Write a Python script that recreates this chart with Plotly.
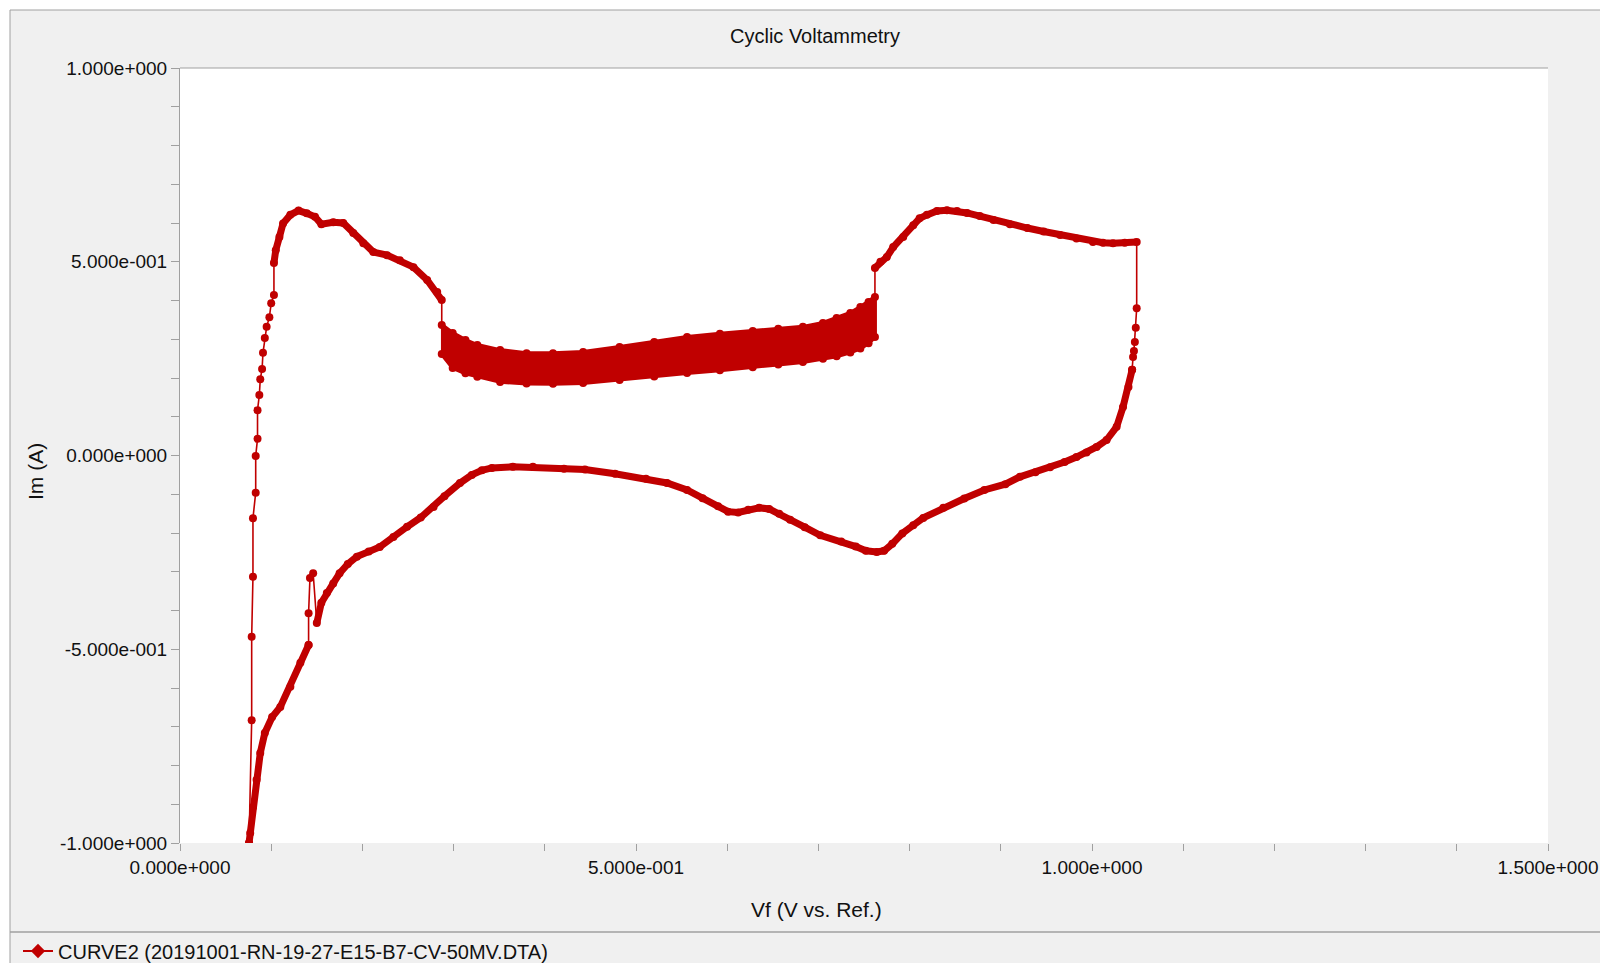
import plotly.graph_objects as go

# ---------------- data ----------------
# anodic steep rise from the switching potential (sparse points)
rise_x = [0.0757, 0.0786, 0.0786, 0.0800, 0.0800, 0.0830, 0.0830, 0.0850, 0.0850,
          0.0870, 0.0880, 0.0900, 0.0910, 0.0930, 0.0950, 0.0980, 0.1000, 0.1030]
rise_y = [-1.000, -0.683, -0.468, -0.313, -0.162, -0.096, -0.001, 0.043, 0.117,
          0.156, 0.197, 0.223, 0.265, 0.303, 0.332, 0.357, 0.393, 0.414]

# first anodic wave
arc1_x = [0.103, 0.105, 0.109, 0.113, 0.121, 0.130, 0.139, 0.148, 0.155, 0.168,
          0.179, 0.190, 0.201, 0.212, 0.227, 0.241, 0.256, 0.271, 0.282, 0.287]
arc1_y = [0.497, 0.530, 0.564, 0.599, 0.621, 0.632, 0.625, 0.616, 0.597, 0.602,
          0.600, 0.574, 0.548, 0.525, 0.517, 0.504, 0.486, 0.453, 0.422, 0.401]

# noisy band (upper and lower envelope of the oscillating points)
band_x = [0.287, 0.299, 0.313, 0.326, 0.351, 0.380, 0.409, 0.442, 0.482, 0.520, 0.556,
          0.592, 0.628, 0.656, 0.683, 0.705, 0.720, 0.735, 0.746, 0.755, 0.762]
band_hi = [0.337, 0.316, 0.298, 0.285, 0.272, 0.264, 0.264, 0.267, 0.280, 0.293, 0.306,
           0.314, 0.321, 0.327, 0.332, 0.342, 0.355, 0.368, 0.383, 0.396, 0.409]
band_lo = [0.262, 0.226, 0.212, 0.203, 0.190, 0.186, 0.185, 0.187, 0.195, 0.204, 0.213,
           0.220, 0.228, 0.235, 0.241, 0.250, 0.256, 0.266, 0.276, 0.290, 0.306]

# second anodic wave
arc2_x = [0.762, 0.768, 0.775, 0.782, 0.793, 0.804, 0.811, 0.819, 0.830, 0.841, 0.852, 0.863,
          0.877, 0.892, 0.910, 0.929, 0.947, 0.965, 0.983, 1.001, 1.012, 1.023, 1.036, 1.049]
arc2_y = [0.484, 0.500, 0.512, 0.538, 0.564, 0.594, 0.612, 0.621, 0.631, 0.633, 0.631, 0.626,
          0.618, 0.608, 0.597, 0.587, 0.578, 0.569, 0.560, 0.551, 0.549, 0.548, 0.549, 0.551]

# reversal (sparse)
rtop_x = [1.049, 1.048, 1.047, 1.046, 1.045, 1.044]
rtop_y = [0.380, 0.330, 0.293, 0.270, 0.254, 0.221]

# cathodic return
ret_x = [1.044, 1.040, 1.034, 1.027, 1.016, 1.005, 0.994, 0.983, 0.970, 0.954, 0.938, 0.921,
         0.905, 0.882, 0.860, 0.837, 0.815, 0.804, 0.792, 0.781, 0.772, 0.764, 0.752, 0.741,
         0.725, 0.702, 0.685, 0.669, 0.657, 0.646, 0.635, 0.623, 0.612, 0.601, 0.590, 0.573,
         0.556, 0.534, 0.511, 0.477, 0.444, 0.421, 0.387, 0.365, 0.342, 0.331, 0.320, 0.307,
         0.290, 0.278, 0.264, 0.249, 0.234, 0.219, 0.207, 0.194, 0.184, 0.175, 0.168, 0.161,
         0.155, 0.150]
ret_y = [0.221, 0.177, 0.125, 0.074, 0.040, 0.022, 0.008, -0.004, -0.017, -0.030, -0.043, -0.055,
         -0.074, -0.089, -0.111, -0.135, -0.161, -0.180, -0.201, -0.228, -0.246, -0.249, -0.246, -0.235,
         -0.222, -0.206, -0.185, -0.166, -0.150, -0.138, -0.135, -0.140, -0.147, -0.145, -0.131, -0.110,
         -0.089, -0.071, -0.060, -0.047, -0.036, -0.034, -0.029, -0.029, -0.032, -0.038, -0.050, -0.071,
         -0.105, -0.133, -0.160, -0.184, -0.210, -0.236, -0.248, -0.261, -0.280, -0.304, -0.330, -0.355,
         -0.380, -0.432]

# small spike (sparse)
spike_x = [0.146, 0.1425, 0.141, 0.141]
spike_y = [-0.304, -0.316, -0.407, -0.489]

# final descent to the switching potential
low_x = [0.141, 0.132, 0.121, 0.110, 0.101, 0.093, 0.088, 0.084, 0.080, 0.077, 0.0757]
low_y = [-0.489, -0.535, -0.597, -0.649, -0.675, -0.716, -0.768, -0.837, -0.907, -0.974, -1.000]

x_tick_vals = [0.0, 0.1, 0.2, 0.3, 0.4, 0.5, 0.6, 0.7, 0.8, 0.9, 1.0, 1.1, 1.2, 1.3, 1.4, 1.5]
x_tick_text = ["0.000e+000", "", "", "", "", "5.000e-001", "", "", "", "", "1.000e+000",
               "", "", "", "", "1.500e+000"]
y_tick_vals = [-1.0, -0.9, -0.8, -0.7, -0.6, -0.5, -0.4, -0.3, -0.2, -0.1, 0.0,
               0.1, 0.2, 0.3, 0.4, 0.5, 0.6, 0.7, 0.8, 0.9, 1.0]
y_tick_text = ["-1.000e+000", "", "", "", "", "-5.000e-001", "", "", "", "", "0.000e+000",
               "", "", "", "", "5.000e-001", "", "", "", "", "1.000e+000"]

series_name = "CURVE2 (20191001-RN-19-27-E15-B7-CV-50MV.DTA)"
title_text = "Cyclic Voltammetry"
x_title = "Vf (V vs. Ref.)"
y_title = "Im (A)"

# ---------------- figure ----------------
RED = "#c00000"
FONT = "Liberation Sans, Arial, sans-serif"
TXT = "#111111"
GRAY = "#a0a0a0"

# zigzag path through the band
zig_x, zig_y = [], []
for i, bx in enumerate(band_x):
    pair = (band_hi[i], band_lo[i]) if i % 2 == 0 else (band_lo[i], band_hi[i])
    zig_x += [bx, bx]
    zig_y += list(pair)

path_x = rise_x + arc1_x + zig_x + arc2_x + rtop_x + ret_x + spike_x + low_x
path_y = rise_y + arc1_y + zig_y + arc2_y + rtop_y + ret_y + spike_y + low_y

dense_x, dense_y = [], []
for sx, sy in [(arc1_x, arc1_y), (arc2_x, arc2_y), (ret_x, ret_y), (low_x, low_y)]:
    dense_x += sx + [None]
    dense_y += sy + [None]

fig = go.Figure()

# band body
fig.add_trace(go.Scatter(
    x=band_x + band_x[::-1], y=band_hi + band_lo[::-1],
    mode="lines", fill="toself", fillcolor=RED,
    line=dict(color=RED, width=4), showlegend=False, hoverinfo="skip"))

# dense portions drawn thick
fig.add_trace(go.Scatter(
    x=dense_x, y=dense_y, mode="lines",
    line=dict(color=RED, width=7), showlegend=False, hoverinfo="skip"))

# the full path with markers
fig.add_trace(go.Scatter(
    x=path_x, y=path_y, mode="lines+markers",
    line=dict(color=RED, width=1.6),
    marker=dict(color=RED, size=8, symbol="circle"),
    showlegend=False, name=series_name))

# legend entry
fig.add_trace(go.Scatter(
    x=[None], y=[None], mode="lines+markers", name=series_name,
    line=dict(color=RED, width=2),
    marker=dict(color=RED, size=11, symbol="diamond")))

# page body adds an 8 px margin; positions below are screen pixels
OFF = 8
W, H = 1608 - OFF, 963 - OFF
PL, PT, PR, PB = 180, 68, 1548, 843          # plot area on screen
L, T = PL - OFF, PT - OFF
R, B = W - (PR - OFF), H - (PB - OFF)
PW, PH = PR - PL, PB - PT


def px(X):
    return (X - PL) / PW


def py(Y):
    return (PB - Y) / PH


shapes = [
    dict(type="rect", xref="paper", yref="paper", x0=px(10), x1=px(1700), y0=py(1100), y1=py(10),
         fillcolor="#f0f0f0", line=dict(color=GRAY, width=1), layer="below"),
    dict(type="rect", xref="paper", yref="paper", x0=0, x1=1, y0=0, y1=1,
         fillcolor="white", line=dict(width=0), layer="below"),
    dict(type="line", xref="paper", yref="paper", x0=0, x1=1, y0=1, y1=1,
         line=dict(color=GRAY, width=1)),
    dict(type="line", xref="paper", yref="paper", x0=px(10), x1=px(1700), y0=py(932), y1=py(932),
         line=dict(color=GRAY, width=1.5)),
]

annotations = [
    dict(text=title_text, xref="paper", yref="paper", x=px(815), y=py(36),
         showarrow=False, xanchor="center", yanchor="middle", font=dict(size=20, color=TXT, family=FONT)),
    dict(text=x_title, xref="paper", yref="paper", x=px(816), y=py(909),
         showarrow=False, xanchor="center", yanchor="middle", font=dict(size=21, color=TXT, family=FONT)),
    dict(text=y_title, xref="paper", yref="paper", x=px(36), y=py(472), textangle=-90,
         showarrow=False, xanchor="center", yanchor="middle", font=dict(size=21, color=TXT, family=FONT)),
]

fig.update_layout(
    width=W, height=H,
    margin=dict(l=L, r=R, t=T, b=B, pad=0, autoexpand=False),
    paper_bgcolor="white", plot_bgcolor="white",
    font=dict(family=FONT, size=19, color=TXT),
    shapes=shapes, annotations=annotations,
    showlegend=True,
    legend=dict(xref="container", yref="container", x=(18 - OFF) / W, y=1 - (951 - OFF) / H,
                xanchor="left", yanchor="middle", bgcolor="rgba(0,0,0,0)",
                font=dict(size=20, color=TXT, family=FONT)),
    xaxis=dict(range=[0, 1.5], tickmode="array", tickvals=x_tick_vals, ticktext=x_tick_text,
               ticks="outside", ticklen=7, tickcolor=GRAY, tickwidth=1,
               showline=False, showgrid=False, zeroline=False, automargin=False,
               tickfont=dict(size=19, color=TXT, family=FONT)),
    yaxis=dict(range=[-1, 1], tickmode="array", tickvals=y_tick_vals, ticktext=y_tick_text,
               ticks="outside", ticklen=8, tickcolor=GRAY, tickwidth=1,
               showline=True, linecolor=GRAY, linewidth=1, automargin=False,
               showgrid=False, zeroline=False,
               tickfont=dict(size=19, color=TXT, family=FONT)),
)

fig.write_html("out.html")
